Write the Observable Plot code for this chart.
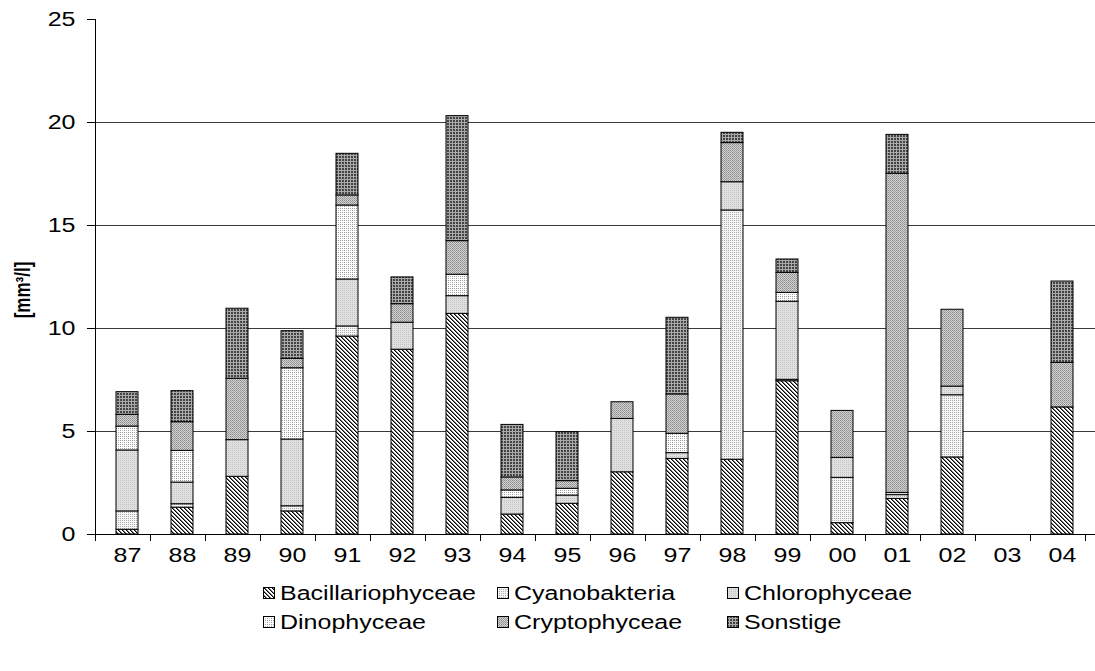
<!DOCTYPE html>
<html>
<head>
<meta charset="utf-8">
<script src="https://cdn.jsdelivr.net/npm/d3@7"></script>
<script src="https://cdn.jsdelivr.net/npm/@observablehq/plot@0.6"></script>
<style>
  html, body { margin: 0; padding: 0; background: #fff; }
  #wrap { position: relative; width: 1095px; height: 671px; font-family: "Liberation Sans", Arial, sans-serif; }
  .leg { position: absolute; height: 22px; display: flex; align-items: center; font-size: 20px; color: #000; white-space: nowrap; }
  .leg svg { margin-right: 5px; flex: none; }
  .leg span { display: inline-block; transform: scaleX(1.25); transform-origin: left center; }
</style>
</head>
<body>
<svg width="0" height="0" style="position:absolute">
  <defs>
    <pattern id="pat0" width="4" height="4" patternUnits="userSpaceOnUse">
      <rect width="4" height="4" fill="#fff"/>
      <rect x="0" y="0" width="1" height="1" fill="#000"/>
      <rect x="1" y="1" width="1" height="1" fill="#000"/>
      <rect x="2" y="2" width="1" height="1" fill="#000"/>
      <rect x="3" y="3" width="1" height="1" fill="#000"/>
      <rect x="1" y="0" width="1" height="1" fill="#777"/>
      <rect x="2" y="1" width="1" height="1" fill="#777"/>
      <rect x="3" y="2" width="1" height="1" fill="#777"/>
      <rect x="0" y="3" width="1" height="1" fill="#777"/>
    </pattern>
    <pattern id="pat1" width="2" height="2" patternUnits="userSpaceOnUse">
      <rect width="2" height="2" fill="#f4f4f4"/>
      <rect x="0" y="0" width="1" height="1" fill="#b0b0b0"/>
    </pattern>
    <pattern id="pat2" width="2" height="2" patternUnits="userSpaceOnUse">
      <rect width="2" height="2" fill="#e0e0e0"/>
      <rect x="0" y="0" width="1" height="1" fill="#c4c4c4"/>
    </pattern>
    <pattern id="pat3" width="4" height="4" patternUnits="userSpaceOnUse">
      <rect width="4" height="4" fill="#fff"/>
      <rect x="0" y="0" width="1" height="1" fill="#999"/>
      <rect x="2" y="0" width="1" height="1" fill="#999"/>
      <rect x="0" y="2" width="1" height="1" fill="#999"/>
      <rect x="2" y="2" width="1" height="1" fill="#ccc"/>
    </pattern>
    <pattern id="pat4" width="2" height="2" patternUnits="userSpaceOnUse">
      <rect width="2" height="2" fill="#d2d2d2"/>
      <rect x="0" y="0" width="1" height="1" fill="#8c8c8c"/>
      <rect x="1" y="1" width="1" height="1" fill="#a0a0a0"/>
    </pattern>
    <pattern id="pat5" width="3" height="3" patternUnits="userSpaceOnUse">
      <rect width="3" height="3" fill="#444"/>
      <rect x="0" y="2" width="3" height="1" fill="#aaa"/>
      <rect x="2" y="0" width="1" height="3" fill="#aaa"/>
    </pattern>
  </defs>
</svg>
<div id="wrap"></div>
<script>
// ---- data ----
const years = ["87","88","89","90","91","92","93","94","95","96","97","98","99","00","01","02","03","04"];
const series = ["Bacillariophyceae","Cyanobakteria","Chlorophyceae","Dinophyceae","Cryptophyceae","Sonstige"];
const bacillariophyceae = [0.23, 1.30, 2.80, 1.12, 9.61, 8.97, 10.71, 0.97, 1.49, 3.02, 3.67, 3.63, 7.44, 0.55, 1.73, 3.74, 0, 6.17];
const cyanobakteria     = [0.89, 0.17, 0,    0.25, 0.49, 0,    0,     0,    0,    0,    0,    12.10, 0.07, 2.20, 0.18, 3.02, 0, 0];
const chlorophyceae     = [2.96, 1.05, 1.78, 3.24, 2.28, 1.31, 0.86,  0.81, 0.40, 2.59, 0.28, 1.37, 3.79, 0.97, 0.11, 0.42, 0, 0];
const dinophyceae       = [1.16, 1.54, 0,    3.46, 3.59, 0,    1.04,  0.36, 0.33, 0,    0.94, 0,    0.43, 0,    0,    0,    0, 0];
const cryptophyceae     = [0.57, 1.39, 2.98, 0.46, 0.49, 0.90, 1.63,  0.63, 0.37, 0.81, 1.91, 1.90, 0.97, 2.28, 15.49, 3.73, 0, 2.16];
const sonstige          = [1.10, 1.51, 3.40, 1.34, 2.02, 1.30, 6.07,  2.55, 2.38, 0,    3.72, 0.50, 0.65, 0,    1.89, 0,    0, 3.95];
const yTicks = [0, 5, 10, 15, 20, 25];
const yTitle = "[mm³/l]";

const seriesValues = [bacillariophyceae, cyanobakteria, chlorophyceae, dinophyceae, cryptophyceae, sonstige];
const patterns = series.map((_, j) => `url(#pat${j})`);

const table = [];
years.forEach((yr, i) => {
  series.forEach((s, j) => {
    const v = seriesValues[j][i];
    if (v > 0) table.push({year: yr, series: s, value: v});
  });
});

// y-axis line and category-boundary ticks, positioned from the x scale
function extras(index, scales, values, dimensions) {
  const g = d3.create("svg:g").attr("stroke", "#000").attr("stroke-width", 1);
  const {marginLeft, marginTop, marginBottom, height, width} = dimensions;
  const x = scales.x;
  const step = x(years[1]) - x(years[0]);
  const offset = x(years[0]) - marginLeft;
  const y0 = height - marginBottom;
  g.append("line").attr("x1", marginLeft + 0.5).attr("x2", marginLeft + 0.5)
    .attr("y1", marginTop).attr("y2", y0 + 0.5);
  for (let i = 0; i <= years.length; i++) {
    const bx = Math.round((i < years.length ? x(years[i]) : x(years[years.length - 1]) + step) - offset) + 0.5;
    if (bx > width) continue;
    g.append("line").attr("x1", bx).attr("x2", bx).attr("y1", y0).attr("y2", y0 + 7);
  }
  return g.node();
}

const chart = Plot.plot({
  width: 1095,
  height: 575,
  marginTop: 19,
  marginBottom: 41,
  marginLeft: 95,
  marginRight: 0,
  style: "font-family: 'Liberation Sans', Arial, sans-serif; font-size: 20px; color: #000; background: #fff; overflow: visible;",
  x: {domain: years, paddingInner: 0.596, paddingOuter: 0.298, align: 0.5, label: null},
  y: {domain: [0, 25], label: null},
  color: {domain: series, range: patterns},
  marks: [
    Plot.ruleY(yTicks.filter(d => d > 0 && d < 25), {stroke: "#3a3a3a", strokeWidth: 1}),
    Plot.barY(table, {x: "year", y: "value", fill: "series", stroke: "#000", strokeWidth: 1}),
    Plot.ruleY([0], {stroke: "#000"}),
    Plot.axisY({ticks: yTicks, tickSize: 8, tickPadding: 12, label: null, tickFormat: d => String(d)}),
    Plot.axisX({tickSize: 0, tickPadding: 13, label: null}),
    extras
  ]
});

// horizontally stretch tick labels (the reference type is wide)
d3.select(chart).selectAll('g[aria-label$="tick label"] text').each(function() {
  const t = this.getAttribute("transform") || "";
  this.setAttribute("transform", t + " scale(1.25,1)");
});

// y-axis title
d3.select(chart).append("text")
  .attr("transform", "translate(23,290) rotate(-90) scale(1,1.25)")
  .attr("text-anchor", "middle")
  .attr("dominant-baseline", "central")
  .attr("font-weight", "bold")
  .attr("font-size", 17)
  .attr("fill", "#000")
  .text(yTitle);

const wrap = document.getElementById("wrap");
chart.style.position = "absolute";
chart.style.left = "0px";
chart.style.top = "0px";
wrap.appendChild(chart);

// legend (two rows, three columns)
const legX = [263, 497, 727];
const legY = [593, 622];
series.forEach((s, j) => {
  const col = j % 3, row = Math.floor(j / 3);
  const div = document.createElement("div");
  div.className = "leg";
  div.style.left = legX[col] + "px";
  div.style.top = (legY[row] - 11) + "px";
  div.innerHTML = `<svg width="12" height="12"><rect x="0.5" y="0.5" width="11" height="11" fill="${patterns[j]}" stroke="#000"/></svg><span>${s}</span>`;
  wrap.appendChild(div);
});
</script>
</body>
</html>
